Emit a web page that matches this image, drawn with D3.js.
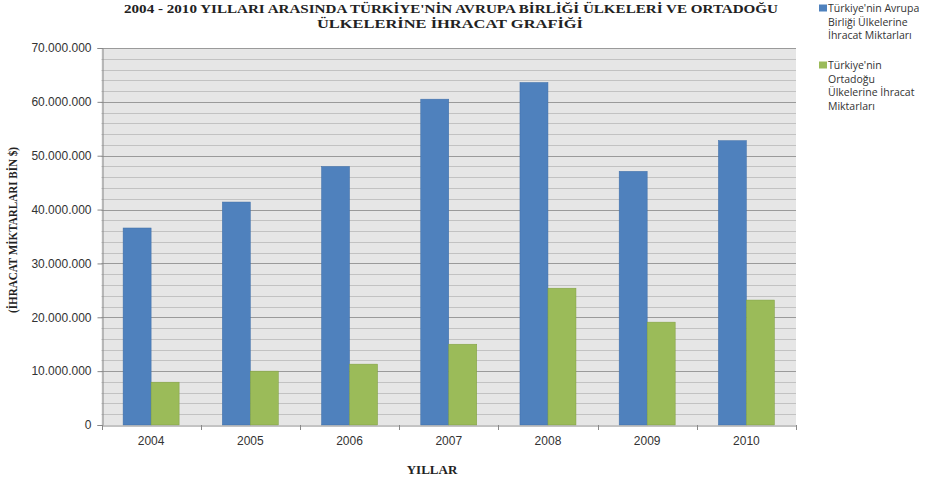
<!DOCTYPE html>
<html><head><meta charset="utf-8">
<script src="https://cdn.jsdelivr.net/npm/d3@7"></script>
<style>body{margin:0;background:#fff}svg{display:block}</style>
</head><body>
<svg id="c" width="950" height="483"></svg>
<script>
const years = ["2004","2005","2006","2007","2008","2009","2010"];
const euExports = [36580000, 41400000, 48000000, 60500000, 63600000, 47100000, 52800000];
const meExports = [7950000, 10000000, 11300000, 15000000, 25400000, 19100000, 23200000];
const seriesNames = ["Türkiye'nin Avrupa Birliği Ülkelerine İhracat Miktarları",
                     "Türkiye'nin Ortadoğu Ülkelerine İhracat Miktarları"];
const yTicks = [0,10000000,20000000,30000000,40000000,50000000,60000000,70000000];

const svg = d3.select("#c");
const m = {l:101.5, r:796, t:48, b:425};
const x = d3.scaleBand().domain(years).range([m.l, m.r]).paddingInner(0).paddingOuter(0);
const y = d3.scaleLinear().domain([0,70000000]).range([m.b, m.t]);

svg.append("rect").attr("x",m.l).attr("y",m.t).attr("width",m.r-m.l).attr("height",m.b-m.t).attr("fill","#e6e6e6");

const minor = d3.range(0, 70000001, 2000000).filter(v => v % 10000000 !== 0);
svg.append("g").selectAll("line").data(minor).join("line")
  .attr("x1",m.l).attr("x2",m.r).attr("y1",d=>Math.round(y(d))+0.5).attr("y2",d=>Math.round(y(d))+0.5)
  .attr("stroke","#c2c2c2").attr("stroke-width",1);
svg.append("g").selectAll("line").data(yTicks.slice(1)).join("line")
  .attr("x1",m.l).attr("x2",m.r).attr("y1",d=>Math.round(y(d))+0.5).attr("y2",d=>Math.round(y(d))+0.5)
  .attr("stroke","#9a9a9a").attr("stroke-width",1);

const fmt = v => v === 0 ? "0" : d3.format(",")(v).replace(/,/g, ".");
const yAxis = svg.append("g").attr("transform",`translate(${Math.round(m.l)+0.5},0)`)
  .call(d3.axisLeft(y).tickValues(yTicks).tickFormat(fmt).tickSize(5).tickPadding(6));
yAxis.select(".domain").attr("stroke","#888");
yAxis.selectAll(".tick line").attr("stroke","#888");
yAxis.selectAll("text").attr("font-family","Liberation Sans, Arial, sans-serif").attr("font-size",12).attr("fill","#333");

const bw = 28;
const g = svg.append("g");
g.selectAll(".eu").data(years).join("rect")
  .attr("x", d => x(d) + x.bandwidth()/2 - bw)
  .attr("y", (d,i) => y(euExports[i]))
  .attr("width", bw).attr("height", (d,i) => y(0) - y(euExports[i]))
  .attr("fill","#4f81bd").attr("stroke","#3f6fa8").attr("stroke-width",0.5);
g.selectAll(".me").data(years).join("rect")
  .attr("x", d => x(d) + x.bandwidth()/2)
  .attr("y", (d,i) => y(meExports[i]))
  .attr("width", bw).attr("height", (d,i) => y(0) - y(meExports[i]))
  .attr("fill","#9bbb59").attr("stroke","#7f9e40").attr("stroke-width",0.5);

const xAxis = svg.append("g").attr("transform",`translate(0,${m.b+0.5})`)
  .call(d3.axisBottom(x).tickSize(0).tickPadding(11));
xAxis.select(".domain").attr("stroke","#888");
xAxis.selectAll("text").attr("font-family","Liberation Sans, Arial, sans-serif").attr("font-size",12).attr("fill","#333");
const bounds = years.map(d => x(d)).concat([m.r]);
svg.append("g").selectAll("line").data(bounds).join("line")
  .attr("x1",d=>Math.round(d)+0.5).attr("x2",d=>Math.round(d)+0.5)
  .attr("y1",m.b).attr("y2",m.b+5).attr("stroke","#888");

const tf = "Liberation Serif, Times New Roman, serif";
svg.append("text").attr("x",451).attr("y",13).attr("text-anchor","middle")
  .attr("font-family",tf).attr("font-weight","bold").attr("font-size",13.5).attr("fill","#222")
  .attr("textLength",654).attr("lengthAdjust","spacingAndGlyphs")
  .text("2004 - 2010 YILLARI ARASINDA  TÜRKİYE'NİN  AVRUPA BİRLİĞİ ÜLKELERİ VE ORTADOĞU");
svg.append("text").attr("x",450).attr("y",28).attr("text-anchor","middle")
  .attr("font-family",tf).attr("font-weight","bold").attr("font-size",13.5).attr("fill","#222")
  .attr("textLength",266).attr("lengthAdjust","spacingAndGlyphs")
  .text("ÜLKELERİNE İHRACAT  GRAFİĞİ");

svg.append("text").attr("transform","translate(17,230) rotate(-90)").attr("text-anchor","middle")
  .attr("font-family",tf).attr("font-weight","bold")
  .attr("font-size",12).attr("fill","#222").attr("textLength",166).attr("lengthAdjust","spacingAndGlyphs")
  .text("(İHRACAT MİKTARLARI BİN $)");
svg.append("text").attr("x",432).attr("y",474).attr("text-anchor","middle")
  .attr("font-family",tf).attr("font-weight","bold")
  .attr("font-size",13).attr("fill","#222").text("YILLAR");

const legendLines = [["Türkiye'nin Avrupa","Birliği Ülkelerine","İhracat Miktarları"],
                     ["Türkiye'nin","Ortadoğu","Ülkelerine İhracat","Miktarları"]];
const colors = ["#4f81bd","#9bbb59"];
const ly = [12, 69];
legendLines.forEach((lines,i) => {
  svg.append("rect").attr("x",819).attr("y",ly[i]-7.5).attr("width",8).attr("height",7).attr("fill",colors[i]);
  lines.forEach((s,j) => svg.append("text").attr("x",828).attr("y",ly[i]+j*13.5)
    .attr("font-family","Open Sans, Liberation Sans, sans-serif")
    .attr("font-size",10.5).attr("fill","#333").text(s));
});
</script>
</body></html>
